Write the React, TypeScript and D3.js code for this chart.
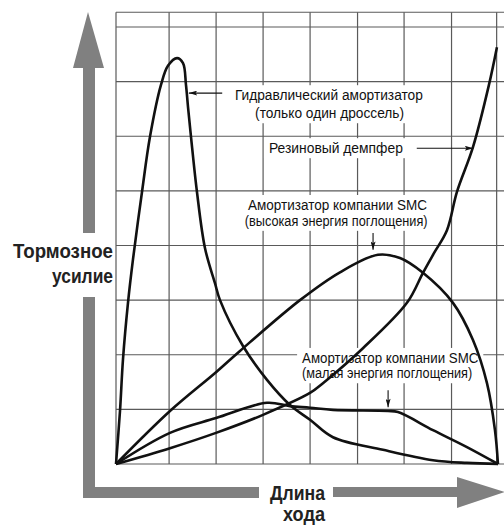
import * as d3 from 'd3';
import React, { useEffect, useRef } from "react";

// stroke (x) and force (y) in grid units
const hydraulicX = [0, 0.085, 0.149, 0.255, 0.362, 0.553, 0.723, 0.957, 1.106, 1.298, 1.426, 1.489, 1.532, 1.596, 1.723, 1.894, 2.106, 2.213, 2.702, 3.213, 3.702, 4.128, 4.617, 5.681, 6.745, 7.468, 8.128];
const hydraulicY = [0, 0.97, 1.92, 2.95, 3.75, 4.98, 5.99, 6.94, 7.29, 7.43, 7.34, 6.94, 6.54, 5.99, 4.98, 3.95, 3.31, 3.0, 2.16, 1.54, 1.08, 0.81, 0.49, 0.26, 0.07, 0.02, 0];

const rubberX = [0, 1.149, 2.128, 3.128, 4.128, 4.404, 5.255, 6.191, 6.532, 6.766, 7.043, 7.255, 7.596, 7.936, 8.106];
const rubberY = [0, 0.29, 0.57, 0.9, 1.3, 1.48, 2.12, 2.95, 3.5, 3.86, 4.28, 4.98, 5.8, 6.94, 7.63];

const smcHighX = [0, 1.149, 2.128, 2.638, 3.915, 4.766, 5.574, 6.043, 6.532, 7.17, 7.596, 7.894, 8.064, 8.128];
const smcHighY = [0, 0.97, 1.68, 2.07, 3.0, 3.51, 3.83, 3.77, 3.5, 2.95, 2.27, 1.48, 0.62, 0];

const smcLowX = [0, 1.149, 2.128, 3.213, 3.702, 4.128, 4.617, 5.787, 6.0, 6.745, 7.468, 8.128];
const smcLowY = [0, 0.57, 0.84, 1.12, 1.06, 1.03, 0.99, 0.97, 0.95, 0.62, 0.31, 0];

const gridX = [0, 1.13, 2.13, 3.13, 4.13, 5.14, 6.13, 7.14, 8.1];
const gridY = [0, 1, 2, 3, 4, 5, 6, 7, 8, 8.27];

// label lines: text, left x, baseline y (grid units), width in grid units of x
const labelHydraulic: [string, number, number, number][] = [
    ["Гидравлический амортизатор", 2.53, 6.66, 4.0],
    ["(только один дроссель)", 2.96, 6.33, 3.17],
];
const labelRubber: [string, number, number, number][] = [
    ["Резиновый демпфер", 3.255, 5.69, 2.85],
];
const labelSmcHigh: [string, number, number, number][] = [
    ["Амортизатор компании SMC", 2.81, 4.65, 3.81],
    ["(высокая энергия поглощения)", 2.74, 4.36, 3.89],
];
const labelSmcLow: [string, number, number, number][] = [
    ["Амортизатор компании SMC", 3.96, 1.85, 3.75],
    ["(малая энергия поглощения)", 3.96, 1.57, 3.62],
];

const yAxisTitle = ["Тормозное", "усилие"];
const xAxisTitle = ["Длина", "хода"];

const App: React.FC = () => {
    const ref = useRef<SVGSVGElement>(null);

    useEffect(() => {
        if (!ref.current) return;
        const width = 504;
        const height = 527;
        const svg = d3.select(ref.current).attr('width', width).attr('height', height);
        svg.selectAll('*').remove();

        const x = d3.scaleLinear().domain([0, 8.15]).range([116, 499]);
        const y = d3.scaleLinear().domain([0, 8]).range([464, 27]);
        const ux = (v: number) => x(v) - x(0);

        const grid = svg.append('g').attr('stroke', '#5a5a5a').attr('stroke-width', 1.2);
        grid.selectAll('.v').data(gridX).enter().append('line')
            .attr('x1', d => x(d)).attr('x2', d => x(d))
            .attr('y1', y(8.27)).attr('y2', y(0));
        grid.selectAll('.h').data(gridY).enter().append('line')
            .attr('x1', x(0)).attr('x2', width)
            .attr('y1', d => y(d)).attr('y2', d => y(d));

        const line = d3.line<[number, number]>()
            .x(d => x(d[0])).y(d => y(d[1]))
            .curve(d3.curveCatmullRom.alpha(0.5));

        const series = [
            [hydraulicX, hydraulicY],
            [rubberX, rubberY],
            [smcHighX, smcHighY],
            [smcLowX, smcLowY],
        ];

        // labels with white boxes behind
        const font = '"Liberation Sans", Arial, sans-serif';
        const addLabel = (lines: [string, number, number, number][]) => {
            const g = svg.append('g');
            const t = g.append('text')
                .attr('font-family', font).attr('font-size', 14)
                .attr('fill', '#111');
            lines.forEach(([s, lx, by, w]) => {
                t.append('tspan').attr('x', x(lx)).attr('y', y(by))
                    .attr('textLength', ux(w)).attr('lengthAdjust', 'spacingAndGlyphs')
                    .text(s);
            });
            const bb = (t.node() as SVGTextElement).getBBox();
            g.insert('rect', 'text')
                .attr('x', bb.x - 5).attr('y', bb.y - 2)
                .attr('width', bb.width + 10).attr('height', bb.height + 4)
                .attr('fill', '#fff');
        };

        addLabel(labelHydraulic);
        addLabel(labelRubber);
        addLabel(labelSmcHigh);
        addLabel(labelSmcLow);

        svg.append('g').selectAll('path').data(series).enter().append('path')
            .attr('d', d => line(d[0].map((v, i) => [v, d[1][i]] as [number, number])))
            .attr('fill', 'none').attr('stroke', '#111').attr('stroke-width', 2.6)
            .attr('stroke-linejoin', 'round');

        // pointer arrows
        const defs = svg.append('defs');
        defs.append('marker').attr('id', 'head')
            .attr('viewBox', '0 0 10 6').attr('refX', 10).attr('refY', 3)
            .attr('markerWidth', 10).attr('markerHeight', 5).attr('markerUnits', 'userSpaceOnUse')
            .attr('orient', 'auto')
            .append('path').attr('d', 'M0,0L10,3L0,6L2,3Z').attr('fill', '#111');

        const pointers: [number, number, number, number][] = [
            [2.26, 6.79, 1.55, 6.79],
            [6.4, 5.78, 7.6, 5.78],
            [5.47, 4.23, 5.47, 3.92],
            [5.79, 1.35, 5.79, 1.04],
        ];
        svg.append('g').selectAll('line').data(pointers).enter().append('line')
            .attr('x1', d => x(d[0])).attr('y1', d => y(d[1]))
            .attr('x2', d => x(d[2])).attr('y2', d => y(d[3]))
            .attr('stroke', '#111').attr('stroke-width', 1.1)
            .attr('marker-end', 'url(#head)');

        // big grey axis arrows
        const grey = '#808080';
        const ax = svg.append('g').attr('fill', grey);
        ax.append('path').attr('d', 'M83,233V68H73L88,12L104,68H95V233Z');
        ax.append('path').attr('d', 'M83,297H95V487H259V498H83Z');
        ax.append('path').attr('d', 'M333,487H457V477L505,492L457,508V497H333Z');

        const title = (s: string, tx: number, ty: number, w: number, anchor: string) => {
            svg.append('text').attr('x', tx).attr('y', ty).attr('text-anchor', anchor)
                .attr('font-family', font).attr('font-weight', 'bold').attr('font-size', 20)
                .attr('textLength', w).attr('lengthAdjust', 'spacingAndGlyphs')
                .attr('fill', '#222').text(s);
        };
        title(yAxisTitle[0], 113, 258, 100, 'end');
        title(yAxisTitle[1], 113, 283, 61, 'end');
        title(xAxisTitle[0], 270, 500, 55, 'start');
        title(xAxisTitle[1], 283, 521, 42, 'start');
    }, []);

    return (<svg ref={ref} style={{ position: 'absolute', left: 0, top: 0 }}></svg>);
}

export default App;
